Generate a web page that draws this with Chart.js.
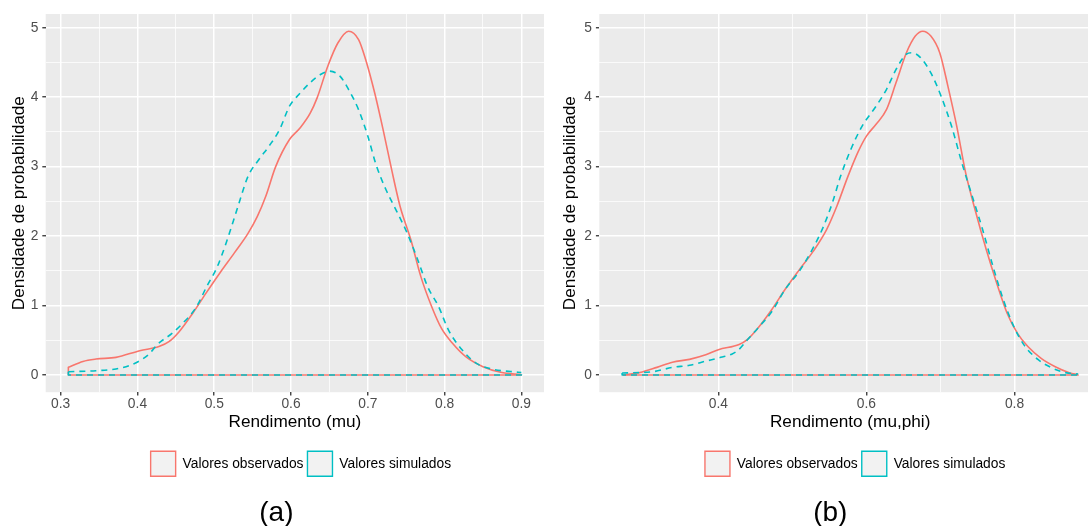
<!DOCTYPE html>
<html>
<head>
<meta charset="utf-8">
<script src="https://cdn.jsdelivr.net/npm/chart.js@4.4.1/dist/chart.umd.min.js"></script>
<style>
  html, body { margin: 0; padding: 0; background: #fff; }
  body { width: 1088px; height: 526px; overflow: hidden; position: relative; }
  canvas { position: absolute; top: 0; }
  #densA { left: 0; }
  #densB { left: 544px; }
</style>
</head>
<body>
<canvas id="densA" width="544" height="540"></canvas>
<canvas id="densB" width="564" height="540"></canvas>
<script>
// Estimated densities, panel (a): Rendimento (mu)
const obsXA = [0.310,0.329,0.346,0.372,0.403,0.428,0.441,0.454,0.472,0.490,0.508,0.526,0.544,0.556,0.567,0.580,0.598,0.612,0.625,0.634,0.648,0.661,0.675,0.688,0.697,0.709,0.720,0.731,0.742,0.756,0.769,0.783,0.796,0.810,0.828,0.850,0.873,0.900];
const obsYA = [0.110,0.196,0.230,0.254,0.350,0.410,0.480,0.620,0.890,1.190,1.480,1.755,2.040,2.280,2.570,3.000,3.390,3.560,3.770,3.990,4.450,4.780,4.950,4.830,4.550,4.060,3.530,2.960,2.430,1.950,1.420,0.990,0.670,0.460,0.260,0.120,0.040,0.005];
const simXA = [0.310,0.346,0.372,0.389,0.403,0.415,0.426,0.445,0.459,0.477,0.490,0.504,0.517,0.531,0.544,0.558,0.571,0.585,0.598,0.612,0.625,0.639,0.650,0.664,0.675,0.688,0.700,0.711,0.724,0.738,0.751,0.765,0.778,0.792,0.805,0.823,0.841,0.864,0.886,0.900];
const simYA = [0.048,0.062,0.087,0.134,0.206,0.300,0.440,0.600,0.745,0.985,1.270,1.560,1.950,2.430,2.860,3.100,3.290,3.530,3.870,4.060,4.210,4.330,4.375,4.300,4.110,3.820,3.440,3.020,2.660,2.350,2.050,1.660,1.270,0.990,0.650,0.360,0.170,0.080,0.050,0.035];

// Panel (b): Rendimento (mu,phi)
const obsXB = [0.271,0.294,0.317,0.338,0.361,0.383,0.400,0.428,0.439,0.453,0.472,0.490,0.509,0.528,0.546,0.560,0.575,0.589,0.600,0.613,0.627,0.640,0.654,0.666,0.676,0.687,0.699,0.710,0.722,0.734,0.748,0.762,0.776,0.790,0.804,0.818,0.836,0.855,0.874,0.886];
const obsYB = [0.000,0.035,0.110,0.185,0.225,0.290,0.365,0.440,0.510,0.670,0.940,1.230,1.510,1.780,2.090,2.430,2.860,3.220,3.440,3.610,3.820,4.210,4.640,4.880,4.950,4.880,4.640,4.160,3.580,2.910,2.330,1.800,1.320,0.890,0.600,0.410,0.240,0.120,0.034,0.005];
const simXB = [0.270,0.294,0.313,0.338,0.361,0.383,0.400,0.418,0.427,0.439,0.453,0.472,0.490,0.509,0.528,0.542,0.554,0.565,0.579,0.594,0.613,0.627,0.640,0.654,0.661,0.673,0.687,0.701,0.715,0.729,0.743,0.757,0.771,0.785,0.799,0.813,0.832,0.851,0.869,0.886];
const simYB = [0.030,0.035,0.050,0.110,0.140,0.200,0.245,0.300,0.360,0.505,0.670,0.910,1.230,1.490,1.830,2.140,2.480,2.860,3.250,3.580,3.870,4.110,4.400,4.620,4.640,4.570,4.350,4.010,3.580,3.050,2.570,2.090,1.560,1.080,0.700,0.430,0.220,0.100,0.034,0.015];

const seriesNames = ['Valores observados', 'Valores simulados'];
const seriesColors = ['#F8766D', '#00BFC4'];

const FONT = '"Liberation Sans", Arial, Helvetica, sans-serif';
Chart.defaults.font.family = FONT;

const near = (v, step) => Math.abs(v / step - Math.round(v / step)) < 1e-6;

// grey panel behind the grid, ggplot style
const panelBackground = {
  id: 'panelBackground',
  beforeDraw(chart) {
    const { ctx, chartArea: a } = chart;
    ctx.save();
    ctx.fillStyle = '#EBEBEB';
    ctx.fillRect(a.left, a.top, a.right - a.left, a.bottom - a.top);
    ctx.restore();
  }
};

// nudge the legend sideways after layout
const legendNudge = {
  id: 'legendNudge',
  afterLayout(chart, args, opts) {
    if (chart.legend && opts.dx) {
      chart.legend.left += opts.dx;
      chart.legend.right += opts.dx;
    }
  }
};

function pts(xs, ys) {
  return xs.map((x, i) => ({ x: x, y: ys[i] }));
}

// closing part of the density outline: down to zero, along the base, back up
function outline(xs, ys) {
  const n = xs.length - 1;
  return [{ x: xs[0], y: ys[0] }, { x: xs[0], y: 0 }, { x: xs[n], y: 0 }, { x: xs[n], y: ys[n] }];
}

function gridAxis(step, majorStep, min, max, tickPad, title) {
  return {
    type: 'linear',
    min: min,
    max: max,
    border: { display: false },
    grid: {
      color: '#FFFFFF',
      lineWidth: c => (c.tick && near(c.tick.value, majorStep) ? 1.5 : 0.75),
      tickColor: c => (c.tick && near(c.tick.value, majorStep) ? '#333333' : 'rgba(0,0,0,0)'),
      tickWidth: 1.3,
      tickLength: 3.4,
      drawTicks: true
    },
    ticks: {
      stepSize: step,
      includeBounds: false,
      autoSkip: false,
      maxRotation: 0,
      padding: tickPad,
      color: '#4D4D4D',
      font: { family: FONT, size: 13.8 },
      callback: v => (near(v, majorStep) ? String(Math.round(v * 10) / 10) : '')
    },
    title: title
  };
}

function buildPanel(canvasId, d) {
  const ctx = document.getElementById(canvasId).getContext('2d');
  const common = { pointRadius: 0, pointHoverRadius: 0, fill: false, borderWidth: 1.6, borderJoinStyle: 'round' };
  return new Chart(ctx, {
    type: 'line',
    data: {
      datasets: [
        Object.assign({ label: seriesNames[0], data: pts(d.obsX, d.obsY), borderColor: seriesColors[0], cubicInterpolationMode: 'monotone', order: 1 }, common),
        Object.assign({ label: seriesNames[1], data: pts(d.simX, d.simY), borderColor: seriesColors[1], borderDash: [6, 5], cubicInterpolationMode: 'monotone', order: 0 }, common),
        Object.assign({ label: '', data: outline(d.obsX, d.obsY), borderColor: seriesColors[0], tension: 0, order: 1 }, common),
        Object.assign({ label: '', data: outline(d.simX, d.simY), borderColor: seriesColors[1], borderDash: [6, 5], tension: 0, order: 0 }, common)
      ]
    },
    options: {
      responsive: false,
      animation: false,
      devicePixelRatio: 1,
      events: [],
      layout: { padding: { top: 14, bottom: 9.5, left: d.padLeft, right: d.padRight } },
      scales: {
        x: gridAxis(d.xStep, d.xMajor, d.xMin, d.xMax, 0, {
          display: true, text: d.xTitle, color: '#000000',
          font: { family: FONT, size: 17.2 }, padding: { top: 0, bottom: 14.5 }
        }),
        y: gridAxis(0.5, 1, -0.2475, 5.1975, 4, {
          display: true, text: 'Densidade de probabilidade', color: '#000000',
          font: { family: FONT, size: 17.2 }, padding: { top: 0, bottom: d.yTitleBottom }
        })
      },
      plugins: {
        tooltip: { enabled: false },
        legendNudge: { dx: d.legendDx },
        legend: {
          position: 'bottom',
          fullSize: false,
          labels: {
            boxWidth: 25,
            boxHeight: 25,
            padding: 4,
            color: '#000000',
            font: { family: FONT, size: 13.8 },
            generateLabels: chart => [0, 1].map(i => ({
              text: chart.data.datasets[i].label,
              fillStyle: '#F2F2F2',
              strokeStyle: chart.data.datasets[i].borderColor,
              lineWidth: 1.4,
              lineDash: [],
              hidden: false,
              datasetIndex: i
            }))
          }
        },
        title: {
          display: true,
          position: 'bottom',
          text: d.caption,
          color: '#000000',
          font: { family: FONT, size: 28, weight: 'normal' },
          padding: { top: 10.6, bottom: 0 }
        }
      }
    },
    plugins: [panelBackground, legendNudge]
  });
}

buildPanel('densA', {
  obsX: obsXA, obsY: obsYA, simX: simXA, simY: simYA,
  xMin: 0.2805, xMax: 0.9295, xStep: 0.05, xMajor: 0.1,
  xTitle: 'Rendimento (mu)', caption: '(a)',
  padLeft: 8.7, padRight: 0, yTitleBottom: -2.7, legendDx: 6
});

buildPanel('densB', {
  obsX: obsXB, obsY: obsYB, simX: simXB, simY: simYB,
  xMin: 0.2392, xMax: 0.9168, xStep: 0.1, xMajor: 0.2,
  xTitle: 'Rendimento (mu,phi)', caption: '(b)',
  padLeft: 15.6, padRight: 7, yTitleBottom: 0, legendDx: 5
});
</script>
</body>
</html>
